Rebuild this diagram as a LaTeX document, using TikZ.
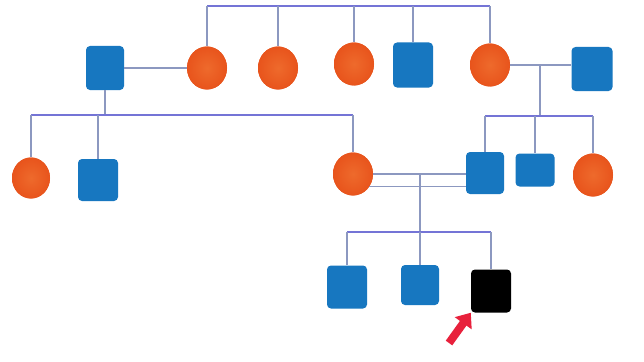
\documentclass[tikz,border=0pt]{standalone}
\usetikzlibrary{shapes.geometric,arrows.meta}
\definecolor{sqblue}{HTML}{1777C0}
\definecolor{circor}{HTML}{E8541C}
\definecolor{circin}{HTML}{EE6A2C}
\definecolor{hline}{HTML}{7474D6}
\definecolor{vline}{HTML}{8C98C0}
\definecolor{arrred}{HTML}{E8213C}
\begin{document}
\begin{tikzpicture}[x=1pt,y=-1pt,
  male/.style={draw=none,fill=sqblue,rounded corners=4pt,minimum width=38pt,minimum height=42pt,inner sep=0pt},
  female/.style={ellipse,fill=circor,inner color=circin,outer color=circor,minimum width=40pt,minimum height=43pt,inner sep=0pt},
  hl/.style={draw=hline,line width=1.3pt},
  vl/.style={draw=vline,line width=1.1pt}]
\useasboundingbox[fill=white] (0,0) rectangle (644,361);
% generation I/II
\node[male,minimum height=44pt] (A) at (105,68) {};
\node[female] (B) at (207,68) {};
\node[female] (C) at (278,68) {};
\node[female] (D) at (354,64) {};
\node[male,minimum width=40pt,minimum height=45pt] (E) at (413,65) {};
\node[female] (F) at (490,65) {};
\node[male,minimum width=41pt,minimum height=44pt] (G) at (592,69) {};
% next generation
\node[female,minimum width=38pt,minimum height=41pt] (K) at (31,178) {};
\node[male,minimum width=40pt] (L) at (98,180) {};
\node[female] (M) at (353,174) {};
\node[male] (H) at (485,173) {};
\node[male,minimum width=39pt,minimum height=33pt] (I) at (535,170) {};
\node[female] (J) at (593,175) {};
% last generation
\node[male,minimum width=40pt,minimum height=43pt] (N) at (347,287) {};
\node[male,minimum height=40pt] (O) at (420,285) {};
\node[male,fill=black,minimum width=40pt,minimum height=43pt] (P) at (491,291) {};
% top sibship
\coordinate (top) at (0,6);
\draw[hl,line width=1.8pt] (B.north |- top) -- (F.north |- top);
\foreach \n in {B,C,D,E,F} \draw[vl] (\n.north) -- (\n.north |- top);
% A x B and their children
\draw[vl] (A) -- (B);
\coordinate (s1) at (105,115);
\draw[vl] (A.south) -- (s1);
\draw[hl] (K.north |- s1) -- (M.north |- s1);
\foreach \n in {K,L,M} \draw[vl] (\n.north |- s1) -- (\n.north);
% F x G and their children
\draw[vl] (F.east) -- (F.east -| G.west);
\coordinate (fg) at (540,65);
\coordinate (s2) at (540,116);
\draw[vl] (fg) -- (s2);
\draw[hl] (H.north |- s2) -- (J.north |- s2);
\foreach \n in {H,I,J} \draw[vl] (\n.north |- s2) -- (\n.north);
% consanguineous marriage M x H
\draw[vl] (M.east) -- (M.east -| H.west);
\draw[vl] (M.-38) -- (M.-38 -| H.west);
\coordinate (s3) at (420,232);
\draw[vl] (M.east -| s3) -- (s3);
\draw[hl] (N.north |- s3) -- (P.north |- s3);
\foreach \n in {N,O,P} \draw[vl] (\n.north |- s3) -- (\n.north);
% proband arrow
\coordinate (arrtail) at (449,343);
\draw[arrred,line width=8pt,-{Triangle[length=13pt,width=20pt]}] (arrtail) -- (P.south west);
\end{tikzpicture}
\end{document}
